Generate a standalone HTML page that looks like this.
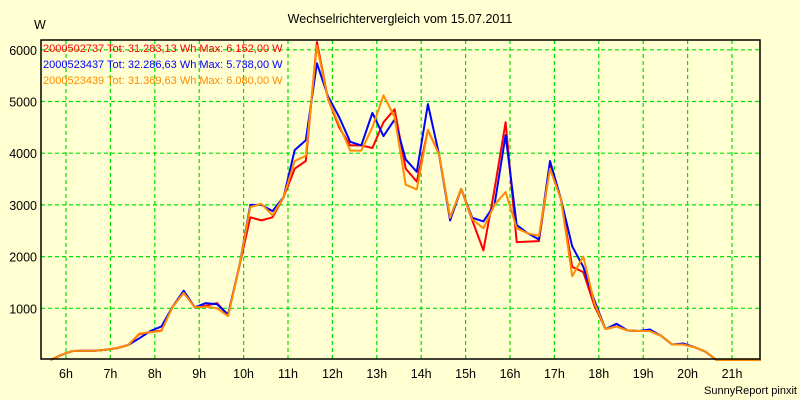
<!DOCTYPE html>
<html><head><meta charset="utf-8"><style>
html,body{margin:0;padding:0;background:#ffffd2;}
svg{display:block;font-family:"Liberation Sans",sans-serif;}
</style></head><body>
<svg id="chart" width="800" height="400">
<rect x="0" y="0" width="800" height="400" fill="#ffffd2"/>
<text x="400" y="23" text-anchor="middle" font-size="12.5" fill="#000">Wechselrichtervergleich vom 15.07.2011</text>
<text x="34" y="29" font-size="12.5" fill="#000">W</text>
<g id="grid"></g>
<g id="yticks"></g>
<g id="xticks"></g>
<g id="series"></g>
<rect x="41" y="40" width="719" height="319" fill="none" stroke="#000" stroke-width="1.5"/>
<g>
<text x="43" y="52" font-size="11" fill="#ff0000">2000502737 Tot: 31.283,13 Wh Max: 6.152,00 W</text>
<text x="43" y="68" font-size="11" fill="#0000ff">2000523437 Tot: 32.286,63 Wh Max: 5.738,00 W</text>
<text x="43" y="84" font-size="11" fill="#ff8c00">2000523439 Tot: 31.369,63 Wh Max: 6.080,00 W</text>
</g>
<text x="797" y="394" text-anchor="end" font-size="11" fill="#000">SunnyReport pinxit</text>
</svg>
<script>
const startHour = 5.65;
const stepHours = 0.25;
const hourTicks = ["6h","7h","8h","9h","10h","11h","12h","13h","14h","15h","16h","17h","18h","19h","20h","21h"];
const yTicks = [1000,2000,3000,4000,5000,6000];
const red = [0,100,175,180,180,200,230,290,500,540,570,1030,1300,1020,1050,1100,870,1800,2760,2700,2760,3150,3700,3850,6150,5050,4500,4150,4150,4100,4600,4850,3700,3450,4450,3980,2750,3310,2700,2120,3300,4600,2280,2290,2300,3750,3100,1800,1700,1050,600,650,570,560,560,470,300,300,250,160,0,0,0,0,0];
const blue = [0,100,175,180,180,200,230,290,420,560,650,1030,1340,1020,1100,1080,880,1800,3000,3000,2880,3150,4060,4250,5740,5100,4700,4220,4150,4780,4330,4650,3880,3640,4950,3980,2700,3310,2750,2680,3000,4350,2610,2450,2330,3850,3100,2200,1800,1150,600,700,570,560,590,470,300,320,250,160,0,0,0,0,0];
const orange = [0,100,175,180,180,200,230,290,510,540,560,1030,1300,1020,1030,1000,850,1800,2960,3020,2800,3150,3850,3950,6080,5050,4550,4050,4050,4500,5120,4700,3390,3300,4450,3980,2750,3310,2720,2550,3000,3250,2550,2450,2400,3700,3100,1620,2000,1100,600,650,570,560,560,470,300,300,250,160,0,0,0,0,0];

const NS="http://www.w3.org/2000/svg";
const X0=41,X1=760,Y0=359.5,Y1=40;
function xScale(h){return 66+(h-6)*44.4;}
function yScale(v){return 360-v*0.0517;}
function mk(tag,attrs,parent){const e=document.createElementNS(NS,tag);for(const k in attrs)e.setAttribute(k,attrs[k]);parent.appendChild(e);return e;}
const grid=document.getElementById('grid'),yt=document.getElementById('yticks'),xt=document.getElementById('xticks'),sg=document.getElementById('series');
yTicks.forEach(v=>{
  const y=yScale(v);
  const l=mk('line',{x1:X0,x2:X1,y1:y,y2:y,stroke:'#00e000','stroke-width':1.2,'stroke-dasharray':'4,3'},grid);
  
  
  const t=mk('text',{x:37,y:y+5,'text-anchor':'end','font-size':12.5,fill:'#000'},yt);
  
  
  t.textContent=v;
});
hourTicks.forEach((lab,i)=>{
  const x=xScale(6+i);
  const l=mk('line',{x1:x,x2:x,y1:Y1,y2:Y0,stroke:'#00e000','stroke-width':1.2,'stroke-dasharray':'4,3'},grid);
  
  
  const t=mk('text',{x:x,y:378,'text-anchor':'middle','font-size':12.5,fill:'#000'},xt);
  
  
  t.textContent=lab;
});
[[red,'#ff0000','series-2000502737'],[blue,'#0000ff','series-2000523437'],[orange,'#ff8c00','series-2000523439']].forEach(([d,c,n])=>{
  const pts=d.map((v,i)=>xScale(startHour+i*stepHours).toFixed(1)+','+yScale(v).toFixed(1)).join(' ');
  const p=mk('polyline',{points:pts,fill:'none',stroke:c,'stroke-width':2,'stroke-linejoin':'round'},sg);
  
  
});
</script>
</body></html>
